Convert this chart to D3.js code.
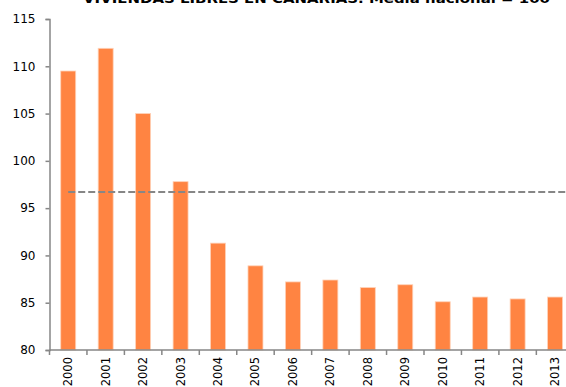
<!DOCTYPE html>
<html><head><meta charset="utf-8">
<script src="https://cdn.jsdelivr.net/npm/d3@7"></script>
<style>html,body{margin:0;padding:0;background:#fff;overflow:hidden}</style>
</head><body>
<svg id="c" width="566" height="387"></svg>
<script>
const title = "VIVIENDAS LIBRES EN CANARIAS. Media nacional = 100";
const years = ["2000","2001","2002","2003","2004","2005","2006","2007","2008","2009","2010","2011","2012","2013"];
const values = [109.5,111.9,105.0,97.8,91.3,88.9,87.2,87.4,86.6,86.9,85.1,85.6,85.4,85.6];
const average = 96.7;
const yTicks = [80,85,90,95,100,105,110,115];

const svg = d3.select("#c");
const font = "DejaVu Sans, Verdana, sans-serif";
const x0 = 49.5, step = 37.45;
const x = d3.scaleBand().domain(years).range([x0, x0 + step*years.length]).padding(0);
const y = d3.scaleLinear().domain([80,115]).range([350, 19]);
const bw = x.bandwidth()*0.4;

// bars
svg.append("g").selectAll("rect").data(years).join("rect")
  .attr("x", (d)=> x(d) + (x.bandwidth()-bw)/2)
  .attr("y", (d,i)=> y(values[i]))
  .attr("width", bw)
  .attr("height", (d,i)=> y(80) - y(values[i]))
  .attr("fill", "#ff8442")
  .attr("stroke", "#ffd2b8").attr("stroke-width", 0.8);

// average dashed line (runs on past the right edge, as in the reference)
svg.append("line")
  .attr("x1", x(years[0]) + x.bandwidth()/2).attr("x2", x0 + step*years.length)
  .attr("y1", y(average)).attr("y2", y(average))
  .attr("stroke", "#868686").attr("stroke-width", 2).attr("stroke-dasharray", "7,3");

// y axis
const ya = svg.append("g").attr("transform", `translate(${x0},0)`)
  .call(d3.axisLeft(y).tickValues(yTicks).tickSize(4).tickPadding(10).tickFormat(d3.format("d")));
ya.select(".domain").attr("stroke", "#868686").attr("stroke-width", 1.5);
ya.selectAll(".tick line").attr("stroke", "#868686").attr("stroke-width", 1.5);
ya.selectAll(".tick text").attr("font-family", font).attr("font-size", 12).attr("fill", "#000");

// x axis
const xa = svg.append("g").attr("transform", `translate(0,${y(80)})`);
xa.append("line").attr("x1", x0).attr("x2", x0 + step*years.length).attr("y1",0).attr("y2",0)
  .attr("stroke", "#868686").attr("stroke-width", 1.5);
xa.selectAll("line.tk").data(years).join("line").attr("class","tk")
  .attr("x1", d=>x(d)).attr("x2", d=>x(d)).attr("y1",0).attr("y2",5)
  .attr("stroke", "#868686").attr("stroke-width", 1.5);
xa.selectAll("text").data(years).join("text")
  .attr("transform", d=>`translate(${x(d)+x.bandwidth()/2+4},7) rotate(-90)`)
  .attr("text-anchor", "end")
  .attr("font-family", font).attr("font-size", 11.5).attr("fill", "#000")
  .text(d=>d);

// title (partly clipped at top, as in the reference)
svg.append("text")
  .attr("x", 83).attr("y", 2.5)
  .attr("textLength", 467).attr("lengthAdjust", "spacingAndGlyphs")
  .attr("font-family", font).attr("font-weight", "bold").attr("font-size", 13).attr("fill", "#000")
  .text(title);
</script>
</body></html>
